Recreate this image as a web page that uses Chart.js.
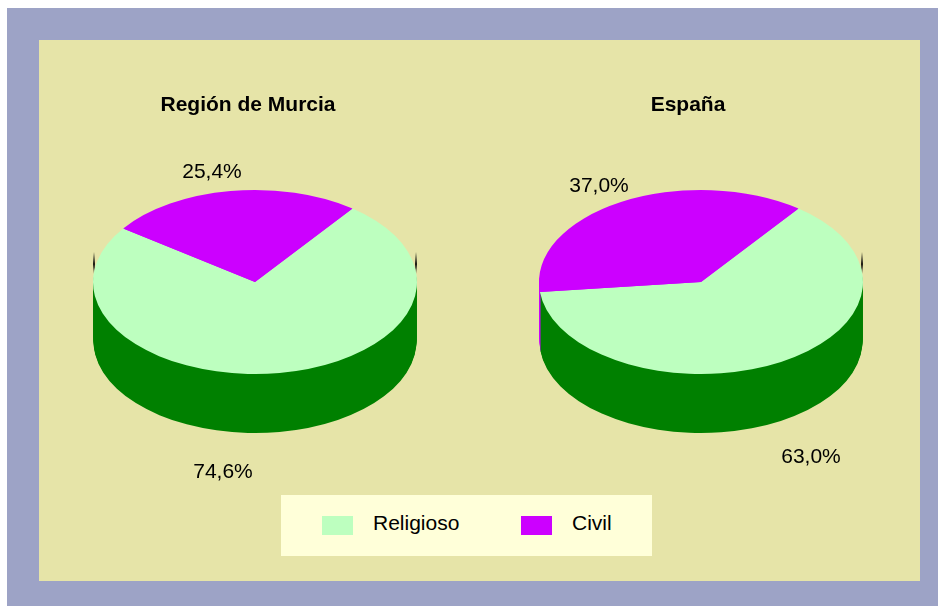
<!DOCTYPE html>
<html>
<head>
<meta charset="utf-8">
<style>
  html, body { margin: 0; padding: 0; background: #fff; }
  body { width: 938px; height: 606px; position: relative; overflow: hidden; font-family: "Liberation Sans", Arial, sans-serif; color: #000; }
  #frame { position: absolute; left: 7px; top: 8px; right: 0; bottom: 0; background: #9da3c6; }
  #panel { position: absolute; left: 39px; top: 40px; width: 881px; height: 541px; background: #e6e4a8; }
  canvas { position: absolute; top: 40px; }
  #legend { position: absolute; left: 281px; top: 495px; width: 371px; height: 61px; background: #ffffd9; }
  #legend i { position: absolute; top: 21px; width: 31px; height: 19px; }
  #legend span { position: absolute; top: 16px; font-size: 21px; line-height: 24px; white-space: nowrap; }
</style>
<script src="https://cdn.jsdelivr.net/npm/chart.js@4"></script>
</head>
<body>
<div id="frame"></div>
<div id="panel"></div>
<canvas id="murcia" width="418" height="541" style="left:39px"></canvas>
<canvas id="espana" width="418" height="541" style="left:479px"></canvas>
<div id="legend"></div>
<script>
const categories = ["Religioso", "Civil"];
const murciaValues = [74.6, 25.4];
const espanaValues = [63.0, 37.0];
const topColors = ["#bdffbf", "#cc00ff"];
const sideColors = ["#008000", "#cc00ff"];

const fontFamily = '"Liberation Sans", Arial, sans-serif';
const squash = 92 / 162;
const depth = 59;
const sideScale = 161.5 / 162;

// pie controller gives a flat circle, this plugin squashes it and adds the side wall
function pie3d(cx, cy, labelPos, edges) {
  return {
    id: "pie3d",
    beforeDatasetDraw(chart, args) {
      const ctx = chart.ctx;
      const arcs = args.meta.data;
      const place = (el, dy, sx) => {
        ctx.setTransform(sx, 0, 0, squash, cx, cy + dy);
        ctx.translate(-el.x, -el.y);
      };
      ctx.save();
      // dark slivers the back of the wall leaves beside the top
      edges.forEach(side => {
        const g = ctx.createLinearGradient(0, cy - 30, 0, cy - 8);
        g.addColorStop(0, "rgba(0,0,0,0)");
        g.addColorStop(0.55, "rgba(0,0,0,0.9)");
        g.addColorStop(1, "rgba(0,0,0,0)");
        ctx.fillStyle = g;
        ctx.fillRect(cx + side * 161 - 1, cy - 30, 2, 22);
      });
      // side wall, civil first so the green covers it
      for (let i = arcs.length - 1; i >= 0; i--) {
        const el = arcs[i];
        const opts = el.options;
        el.options = Object.assign({}, opts, { backgroundColor: sideColors[i], borderWidth: 0 });
        for (let d = depth; d > 0; d--) {
          place(el, d, sideScale);
          el.draw(ctx);
        }
        el.options = opts;
      }
      arcs.forEach(el => {
        place(el, 0, 1);
        el.draw(ctx);
      });
      ctx.restore();
      return false;
    },
    afterDatasetsDraw(chart) {
      const ctx = chart.ctx;
      const vals = chart.data.datasets[0].data;
      ctx.save();
      ctx.font = "21px " + fontFamily;
      ctx.fillStyle = "#000";
      ctx.textAlign = "center";
      ctx.textBaseline = "middle";
      vals.forEach((v, i) => {
        ctx.fillText(v.toFixed(1).replace(".", ",") + "%", labelPos[i][0], labelPos[i][1]);
      });
      ctx.restore();
    }
  };
}

function makePie(id, title, values, cx, cy, labelPos, edges) {
  new Chart(document.getElementById(id), {
    type: "pie",
    data: {
      labels: categories,
      datasets: [{ data: values, backgroundColor: topColors, borderWidth: 0 }]
    },
    options: {
      responsive: false,
      animation: false,
      events: [],
      rotation: 37,
      layout: { padding: { left: 47, right: 47 } },
      plugins: {
        legend: { display: false },
        tooltip: { enabled: false },
        title: {
          display: true,
          text: title,
          color: "#000",
          font: { family: fontFamily, size: 21, weight: "bold" },
          padding: { top: 53, bottom: 0 }
        }
      }
    },
    plugins: [pie3d(cx, cy, labelPos, edges)]
  });
}

// canvas coordinates: murcia canvas starts at x=39, espana at x=479, both at y=40
makePie("murcia", "Región de Murcia", murciaValues, 216, 242, [[184, 432], [173, 132]], [-1, 1]);
makePie("espana", "España", espanaValues, 222, 242, [[332, 417], [120, 146]], [1]);

const legend = document.getElementById("legend");
const swatchX = [41, 240];
const textX = [92, 291];
categories.forEach((name, i) => {
  const sw = document.createElement("i");
  sw.style.left = swatchX[i] + "px";
  sw.style.background = topColors[i];
  legend.appendChild(sw);
  const tx = document.createElement("span");
  tx.style.left = textX[i] + "px";
  tx.textContent = name;
  legend.appendChild(tx);
});
</script>
</body>
</html>
